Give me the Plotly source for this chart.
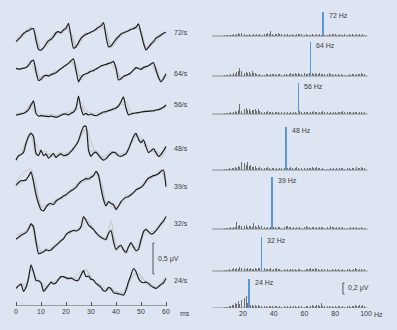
import plotly.graph_objects as go

# ---------------- data ----------------
rates = ["72/s", "64/s", "56/s", "48/s", "39/s", "32/s", "24/s"]
peak_labels = ["72 Hz", "64 Hz", "56 Hz", "48 Hz", "39 Hz", "32 Hz", "24 Hz"]
peak_hz = [72, 64, 56, 48, 39, 32, 24]

ms_black = list(range(0, 61))
ms_gray = list(range(0, 61, 2))

black_72 = [-0.09, -0.05, -0.01, 0.04, 0.07, 0.085, 0.11, 0.12, -0.065, -0.215, -0.226, -0.19, -0.13, -0.076, -0.053, -0.011,
            0.053, 0.069, 0.053, 0.097, 0.124, 0.205, -0.011, -0.198, -0.173, -0.108, -0.037, 0.0, 0.027, 0.044, 0.065,
            0.081, 0.108, 0.14, 0.161, 0.215, -0.011, -0.173, -0.161, -0.108, -0.053, -0.011, 0.032, 0.053, 0.069, 0.085,
            0.108, 0.118, 0.14, 0.194, 0.044, -0.118, -0.226, -0.183, -0.129, -0.092, -0.037, -0.011, 0.016, 0.044, 0.06]
gray_72a = [-0.05, 0.02, 0.09, 0.14, 0.02, -0.20, -0.17, -0.08, 0.02, 0.08, 0.15, 0.06, -0.19, -0.09, 0.01, 0.05,
            0.09, 0.13, 0.10, -0.19, -0.10, 0.00, 0.06, 0.10, 0.12, 0.09, -0.18, -0.16, -0.08, 0.00, 0.05]
gray_72b = [-0.10, -0.03, 0.05, 0.15, -0.03, -0.25, -0.10, -0.02, 0.07, 0.03, 0.10, 0.03, -0.15, -0.01, 0.05, 0.04,
            0.12, 0.20, 0.05, -0.13, -0.03, 0.05, 0.05, 0.13, 0.16, 0.07, -0.20, -0.10, -0.02, 0.04, 0.07]

black_64 = [0.027, 0.016, 0.02, 0.03, 0.04, 0.075, 0.134, 0.16, -0.027, -0.17, -0.15, -0.10, -0.086, -0.097, -0.075, -0.06,
            -0.043, -0.01, 0.02, 0.054, 0.08, 0.107, 0.15, 0.18, 0.0, -0.19, -0.12, -0.075, -0.06, -0.043, -0.02,
            -0.01, 0.016, 0.038, 0.065, 0.08, 0.09, 0.107, 0.118, 0.14, 0.027, -0.16, -0.14, -0.10, -0.086, -0.07,
            -0.043, 0.0, 0.038, 0.027, 0.01, 0.043, 0.054, 0.07, 0.097, 0.118, 0.0, -0.12, -0.19, -0.14, -0.065]
gray_64a = [0.04, 0.01, 0.06, 0.16, 0.05, -0.17, -0.10, -0.06, -0.02, 0.03, 0.09, 0.12, 0.08, -0.16, -0.07, -0.03,
            0.03, 0.06, 0.10, 0.13, 0.08, -0.16, -0.09, -0.04, 0.02, 0.03, 0.06, 0.11, 0.05, -0.17, -0.10]
gray_64b = [0.01, 0.03, 0.03, 0.10, -0.06, -0.12, -0.07, -0.09, -0.05, 0.01, 0.06, 0.16, -0.04, -0.10, -0.05, 0.00,
            0.01, 0.07, 0.08, 0.10, 0.00, -0.12, -0.08, -0.05, 0.05, 0.00, 0.04, 0.08, -0.04, -0.16, -0.04]

black_56 = [-0.113, -0.108, -0.097, -0.086, -0.065, -0.032, 0.048, 0.115, -0.086, -0.13, -0.124, -0.13, -0.134, -0.14, -0.13,
            -0.14, -0.15, -0.14, -0.118, -0.10, -0.097, -0.113, -0.086, -0.065, -0.005, 0.19, -0.005, -0.113, -0.086,
            -0.113, -0.097, -0.118, -0.124, -0.108, -0.086, -0.065, -0.06, -0.043, -0.032, -0.016, 0.0, 0.032, 0.10,
            0.18, -0.005, -0.113, -0.097, -0.086, -0.08, -0.075, -0.065, -0.06, -0.054, -0.054, -0.048, -0.048,
            -0.032, -0.027, -0.01, 0.01, 0.048]
gray_56a = [-0.10, -0.08, -0.04, 0.08, -0.02, -0.10, -0.12, -0.10, -0.12, -0.10, -0.08, -0.05, 0.02, 0.10, -0.04, -0.08,
            -0.10, -0.07, -0.04, -0.02, 0.02, 0.08, 0.10, -0.06, -0.09, -0.06, -0.04, -0.05, -0.03, 0.00, 0.03]
gray_56b = [-0.12, -0.10, -0.08, 0.02, -0.10, -0.14, -0.11, -0.14, -0.13, -0.12, -0.11, -0.09, -0.04, 0.04, -0.10, -0.11,
            -0.12, -0.10, -0.08, -0.04, -0.02, 0.06, 0.02, -0.10, -0.07, -0.07, -0.06, -0.04, -0.04, -0.02, 0.06]

black_48 = [-0.26, -0.19, -0.17, -0.14, 0.01, 0.12, 0.17, 0.12, -0.15, -0.19, -0.10, -0.19, -0.16, -0.23, -0.19, -0.15,
            -0.22, -0.18, -0.16, -0.19, -0.18, -0.16, -0.12, -0.07, -0.016, 0.054, 0.18, 0.28, 0.29, -0.10, -0.20,
            -0.15, -0.13, -0.18, -0.23, -0.26, -0.24, -0.19, -0.15, -0.13, -0.15, -0.19, -0.20, -0.18, -0.16, -0.086,
            0.02, 0.12, 0.17, 0.075, 0.02, 0.065, -0.043, -0.14, -0.11, -0.075, -0.14, -0.20, -0.17, -0.11, -0.043]
gray_48a = [-0.22, -0.14, 0.05, 0.20, 0.00, -0.14, -0.12, -0.20, -0.18, -0.13, -0.20, -0.14, -0.04, 0.12, 0.24, 0.05,
            -0.16, -0.20, -0.18, -0.12, -0.18, -0.16, -0.12, 0.04, 0.14, 0.10, 0.00, -0.08, -0.18, -0.22, -0.10]
gray_48b = [-0.24, -0.18, -0.02, 0.14, -0.18, -0.12, -0.18, -0.16, -0.20, -0.18, -0.15, -0.10, 0.00, 0.15, 0.26, -0.12,
            -0.10, -0.20, -0.22, -0.17, -0.13, -0.18, -0.14, -0.01, 0.12, 0.06, -0.06, -0.12, -0.12, -0.15, -0.02]

black_39 = [0.048, 0.09, 0.12, 0.12, 0.13, 0.19, 0.26, 0.10, -0.11, -0.25, -0.35, -0.37, -0.31, -0.26, -0.25, -0.27,
            -0.21, -0.18, -0.16, -0.13, -0.11, -0.075, -0.043, -0.02, 0.01, 0.065, 0.11, 0.13, 0.15, 0.145, 0.17, 0.20,
            0.27, 0.21, -0.005, -0.19, -0.29, -0.22, -0.25, -0.27, -0.35, -0.29, -0.22, -0.18, -0.15, -0.14, -0.11,
            -0.075, -0.03, -0.01, 0.01, 0.048, 0.11, 0.16, 0.18, 0.20, 0.21, 0.23, 0.27, 0.29, 0.02]
gray_39a = [0.10, 0.20, 0.28, 0.30, 0.05, -0.28, -0.33, -0.22, -0.24, -0.14, -0.08, -0.02, 0.05, 0.10, 0.17, 0.19,
            0.24, 0.10, -0.22, -0.30, -0.30, -0.26, -0.18, -0.08, -0.05, 0.04, 0.08, 0.15, 0.23, 0.25, 0.10]
gray_39b = [0.02, 0.08, 0.15, 0.22, -0.05, -0.30, -0.27, -0.28, -0.18, -0.18, -0.13, -0.06, 0.00, 0.08, 0.12, 0.14,
            0.22, 0.05, -0.25, -0.22, -0.32, -0.24, -0.12, -0.13, -0.01, 0.03, 0.13, 0.16, 0.19, 0.30, 0.08]

black_32 = [-0.12, -0.086, -0.054, -0.032, -0.01, 0.043, 0.13, 0.086, -0.156, -0.35, -0.34, -0.32, -0.29, -0.30, -0.29,
            -0.25, -0.215, -0.18, -0.14, -0.11, -0.043, -0.01, 0.01, 0.027, 0.016, 0.032, 0.086, 0.25, 0.19, 0.11, 0.075,
            0.043, -0.01, -0.054, -0.086, -0.11, -0.12, -0.02, 0.02, -0.156, -0.28, -0.24, -0.21, -0.29, -0.33, -0.24,
            -0.17, -0.24, -0.30, -0.28, -0.13, 0.005, 0.043, 0.005, -0.032, -0.02, 0.02, 0.075, 0.13, 0.18, 0.25]
gray_32a = [-0.05, -0.02, 0.02, 0.10, -0.10, -0.30, -0.31, -0.26, -0.20, -0.12, -0.06, 0.02, 0.03, 0.10, 0.22, 0.12,
            0.00, -0.06, -0.10, 0.18, -0.20, -0.25, -0.30, -0.22, -0.34, -0.15, 0.00, 0.00, 0.04, 0.10, 0.22]
gray_32b = [-0.10, -0.08, 0.00, 0.15, -0.20, -0.33, -0.27, -0.30, -0.24, -0.16, -0.05, -0.02, 0.04, 0.06, 0.16, 0.10,
            -0.04, -0.10, -0.14, 0.05, -0.30, -0.24, -0.36, -0.20, -0.26, -0.10, 0.06, -0.05, 0.03, 0.15, 0.24]

black_24 = [-0.15, -0.11, -0.08, -0.20, -0.134, 0.01, 0.23, 0.12, -0.027, -0.027, -0.06, -0.20, -0.15, -0.10, -0.05,
            -0.08, -0.06, -0.005, 0.038, 0.038, 0.02, 0.005, 0.016, -0.005, -0.027, -0.016, 0.065, 0.134, 0.038, 0.048,
            -0.005, -0.016, -0.07, -0.10, -0.134, -0.19, -0.19, -0.134, -0.156, -0.22, -0.23, -0.24, -0.25, -0.26,
            -0.18, -0.043, 0.065, 0.17, 0.12, 0.01, -0.043, -0.06, -0.05, -0.07, -0.11, -0.134, -0.15, -0.124, -0.09,
            -0.06, 0.01]
gray_24a = [-0.12, -0.10, -0.08, 0.18, 0.02, -0.04, -0.12, -0.08, -0.02, 0.02, 0.04, 0.00, 0.05, 0.12, 0.14, 0.02,
            -0.05, -0.10, -0.16, -0.18, -0.20, -0.22, -0.14, 0.02, 0.10, 0.02, -0.03, -0.08, -0.12, -0.06, 0.04]
gray_24b = [-0.18, -0.06, -0.16, 0.15, 0.00, -0.08, -0.18, -0.04, -0.08, 0.05, 0.00, 0.03, 0.00, 0.04, 0.16, 0.04,
            -0.08, -0.14, -0.20, -0.13, -0.21, -0.24, -0.20, 0.00, 0.08, 0.06, -0.08, -0.12, -0.16, -0.10, 0.02]

freq_hz = list(range(1, 100))
spec_72 = [0, 0, 0, 0, 0, 0, 0, 0.01, 0.01, 0.02,
           0.01, 0.02, 0.01, 0.03, 0.02, 0.04, 0.05, 0.03, 0.06, 0.05,
           0.03, 0.02, 0.02, 0.03, 0.02, 0.02, 0.03, 0.02, 0.04, 0.02,
           0.03, 0.02, 0.03, 0.04, 0.03, 0.05, 0.04, 0.09, 0.03, 0.02,
           0.03, 0.04, 0.05, 0.03, 0.04, 0.02, 0.03, 0.02, 0.03, 0.02,
           0.02, 0.03, 0.02, 0.02, 0.03, 0.04, 0.03, 0.03, 0.04, 0.02,
           0.03, 0.02, 0.02, 0.02, 0.03, 0.02, 0.02, 0.03, 0.02, 0.03,
           0.02, 0.44, 0.02, 0.03, 0.02, 0.03, 0.02, 0.04, 0.03, 0.03,
           0.02, 0.02, 0.03, 0.02, 0.02, 0.03, 0.02, 0.02, 0.03, 0.02,
           0.03, 0.02, 0.02, 0.03, 0.02, 0.03, 0.02, 0.03, 0.02]
spec_64 = [0, 0, 0, 0, 0, 0, 0.01, 0.02, 0.01, 0.02,
           0.02, 0.03, 0.02, 0.05, 0.03, 0.08, 0.10, 0.14, 0.09, 0.12,
           0.06, 0.08, 0.05, 0.07, 0.04, 0.09, 0.05, 0.06, 0.03, 0.02,
           0.03, 0.02, 0.03, 0.02, 0.03, 0.03, 0.02, 0.03, 0.04, 0.03,
           0.03, 0.02, 0.04, 0.03, 0.02, 0.03, 0.03, 0.04, 0.02, 0.03,
           0.05, 0.03, 0.04, 0.06, 0.03, 0.05, 0.04, 0.04, 0.03, 0.05,
           0.03, 0.04, 0.05, 0.62, 0.06, 0.04, 0.05, 0.03, 0.04, 0.05,
           0.04, 0.03, 0.04, 0.03, 0.04, 0.05, 0.03, 0.03, 0.02, 0.03,
           0.02, 0.03, 0.02, 0.03, 0.02, 0.02, 0.03, 0.02, 0.03, 0.02,
           0.03, 0.04, 0.02, 0.03, 0.04, 0.03, 0.05, 0.04, 0.03]
spec_56 = [0, 0, 0, 0, 0, 0, 0, 0.01, 0.02, 0.01,
           0.02, 0.03, 0.02, 0.03, 0.05, 0.04, 0.08, 0.18, 0.06, 0.10,
           0.09, 0.11, 0.07, 0.09, 0.06, 0.08, 0.07, 0.10, 0.05, 0.09,
           0.06, 0.04, 0.05, 0.03, 0.04, 0.06, 0.03, 0.04, 0.03, 0.02,
           0.03, 0.04, 0.03, 0.02, 0.03, 0.02, 0.03, 0.02, 0.03, 0.02,
           0.03, 0.02, 0.04, 0.03, 0.02, 0.56, 0.05, 0.03, 0.04, 0.03,
           0.04, 0.03, 0.02, 0.03, 0.04, 0.05, 0.03, 0.04, 0.02, 0.03,
           0.04, 0.05, 0.03, 0.04, 0.03, 0.02, 0.03, 0.02, 0.04, 0.03,
           0.02, 0.03, 0.04, 0.03, 0.05, 0.03, 0.02, 0.03, 0.04, 0.03,
           0.02, 0.03, 0.04, 0.03, 0.02, 0.03, 0.04, 0.02, 0.03]
spec_48 = [0, 0, 0, 0, 0, 0, 0, 0.01, 0.02, 0.02,
           0.03, 0.02, 0.04, 0.03, 0.05, 0.04, 0.07, 0.05, 0.15, 0.08,
           0.12, 0.09, 0.14, 0.07, 0.10, 0.06, 0.05, 0.08, 0.04, 0.03,
           0.05, 0.03, 0.02, 0.04, 0.03, 0.05, 0.03, 0.02, 0.04, 0.03,
           0.02, 0.03, 0.02, 0.04, 0.03, 0.02, 0.03, 0.78, 0.03, 0.04,
           0.05, 0.03, 0.02, 0.04, 0.05, 0.03, 0.02, 0.03, 0.02, 0.03,
           0.02, 0.03, 0.04, 0.03, 0.05, 0.04, 0.03, 0.05, 0.04, 0.03,
           0.02, 0.03, 0.02, 0.03, 0.02, 0.02, 0.03, 0.02, 0.03, 0.02,
           0.03, 0.02, 0.03, 0.04, 0.03, 0.02, 0.03, 0.04, 0.03, 0.02,
           0.03, 0.04, 0.02, 0.05, 0.03, 0.04, 0.06, 0.04, 0.03]
spec_39 = [0, 0, 0, 0, 0, 0, 0, 0.01, 0.01, 0.02,
           0.02, 0.03, 0.02, 0.03, 0.04, 0.12, 0.05, 0.08, 0.06, 0.09,
           0.05, 0.07, 0.04, 0.06, 0.05, 0.04, 0.11, 0.06, 0.04, 0.07,
           0.03, 0.05, 0.03, 0.04, 0.02, 0.03, 0.02, 0.03, 0.95, 0.04,
           0.03, 0.02, 0.04, 0.03, 0.02, 0.03, 0.04, 0.05, 0.06, 0.04,
           0.03, 0.02, 0.03, 0.02, 0.04, 0.02, 0.03, 0.02, 0.03, 0.04,
           0.05, 0.04, 0.03, 0.02, 0.03, 0.04, 0.02, 0.03, 0.02, 0.03,
           0.04, 0.03, 0.02, 0.03, 0.04, 0.02, 0.05, 0.03, 0.04, 0.02,
           0.03, 0.02, 0.03, 0.02, 0.03, 0.02, 0.03, 0.02, 0.02, 0.03,
           0.02, 0.03, 0.02, 0.03, 0.02, 0.02, 0.03, 0.02, 0.02]
spec_32 = [0, 0, 0, 0, 0, 0, 0, 0.01, 0.02, 0.02,
           0.03, 0.02, 0.04, 0.05, 0.03, 0.06, 0.04, 0.07, 0.05, 0.04,
           0.06, 0.04, 0.05, 0.03, 0.06, 0.04, 0.03, 0.05, 0.04, 0.06,
           0.05, 0.62, 0.09, 0.05, 0.03, 0.04, 0.03, 0.05, 0.02, 0.04,
           0.03, 0.05, 0.04, 0.03, 0.02, 0.03, 0.04, 0.02, 0.03, 0.02,
           0.03, 0.04, 0.02, 0.03, 0.02, 0.04, 0.03, 0.02, 0.03, 0.02,
           0.03, 0.04, 0.03, 0.05, 0.03, 0.04, 0.06, 0.04, 0.03, 0.02,
           0.03, 0.02, 0.03, 0.02, 0.03, 0.02, 0.02, 0.03, 0.02, 0.03,
           0.02, 0.03, 0.02, 0.02, 0.03, 0.02, 0.03, 0.04, 0.03, 0.02,
           0.02, 0.03, 0.05, 0.03, 0.02, 0.04, 0.03, 0.02, 0.03]
spec_24 = [0, 0, 0, 0, 0, 0, 0, 0.01, 0.02, 0.02,
           0.03, 0.04, 0.06, 0.05, 0.09, 0.07, 0.12, 0.08, 0.15, 0.10,
           0.18, 0.21, 0.09, 0.53, 0.06, 0.05, 0.04, 0.06, 0.03, 0.05,
           0.04, 0.03, 0.05, 0.03, 0.04, 0.02, 0.03, 0.04, 0.03, 0.02,
           0.03, 0.04, 0.02, 0.03, 0.02, 0.05, 0.03, 0.02, 0.03, 0.02,
           0.03, 0.02, 0.04, 0.03, 0.02, 0.03, 0.02, 0.04, 0.03, 0.02,
           0.03, 0.04, 0.02, 0.03, 0.05, 0.04, 0.03, 0.05, 0.06, 0.04,
           0.09, 0.04, 0.03, 0.02, 0.03, 0.04, 0.02, 0.03, 0.02, 0.03,
           0.02, 0.03, 0.04, 0.02, 0.03, 0.02, 0.03, 0.04, 0.03, 0.02,
           0.03, 0.04, 0.05, 0.03, 0.04, 0.06, 0.04, 0.05, 0.03]

ms_ticks = [0, 10, 20, 30, 40, 50, 60]
hz_ticks = [20, 40, 60, 80, 100]
wave_scale_uV = 0.5
spec_scale_uV = 0.2

# ---------------- layout constants ----------------
W, H = 397, 330
BG = "#dee5f2"
FONT = "Liberation Sans"
TXT = "#3a3a3a"
wave_offsets = [4.355, 3.806, 3.194, 2.613, 1.903, 1.194, 0.435]   # row baselines (µV units, left axis)
label_dy = [0.05, -0.05, 0.05, -0.08, 0.02, 0.13, -0.03]
spec_offsets = [4.945, 4.218, 3.527, 2.509, 1.436, 0.673, 0.0]     # row baselines (µV units, right axis)

blacks = [black_72, black_64, black_56, black_48, black_39, black_32, black_24]
grays = [(gray_72a, gray_72b), (gray_64a, gray_64b), (gray_56a, gray_56b), (gray_48a, gray_48b),
         (gray_39a, gray_39b), (gray_32a, gray_32b), (gray_24a, gray_24b)]
spectra = [spec_72, spec_64, spec_56, spec_48, spec_39, spec_32, spec_24]

fig = go.Figure()

for i in range(7):
    off = wave_offsets[i]
    for g in grays[i]:
        fig.add_trace(go.Scatter(x=ms_gray, y=[v + off for v in g], mode="lines",
                                 line=dict(color="#bdbdbd", width=0.8, shape="spline", smoothing=0.8),
                                 xaxis="x", yaxis="y", hoverinfo="skip", showlegend=False))
    fig.add_trace(go.Scatter(x=ms_black, y=[v + off for v in blacks[i]], mode="lines",
                             line=dict(color="#1e1e1e", width=1.2, shape="spline", smoothing=0.5),
                             xaxis="x", yaxis="y", hoverinfo="skip", showlegend=False))

annotations = []
shapes = []
for i in range(7):
    off = spec_offsets[i]
    spec = spectra[i]
    colors = ["#5a96d4" if f == peak_hz[i] else "#6e6e6e" for f in freq_hz]
    widths = [1.0 if f == peak_hz[i] else 0.6 for f in freq_hz]
    fig.add_trace(go.Bar(x=freq_hz, y=spec, base=off, width=widths,
                         marker=dict(color=colors, line=dict(width=0)),
                         xaxis="x2", yaxis="y2", hoverinfo="skip", showlegend=False))
    shapes.append(dict(type="line", xref="x2", yref="y2", x0=0, x1=101, y0=off, y1=off,
                       line=dict(color="#8a8a8a", width=1)))
    pk = spec[freq_hz.index(peak_hz[i])]
    annotations.append(dict(x=peak_hz[i] + 2.4, y=off + pk - 0.065, xref="x2", yref="y2",
                            text=peak_labels[i], showarrow=False, xanchor="left", yanchor="middle",
                            font=dict(family=FONT, size=7, color=TXT)))
    annotations.append(dict(x=62.3, y=wave_offsets[i] + label_dy[i], xref="x", yref="y",
                            text=rates[i], showarrow=False, xanchor="left", yanchor="middle",
                            font=dict(family=FONT, size=7, color=TXT)))

# left time axis line
shapes.append(dict(type="line", xref="x", yref="y", x0=0, x1=60, y0=0, y1=0,
                   line=dict(color="#555555", width=1)))
# scale bars
shapes.append(dict(type="path", xref="x", yref="y",
                   path=f"M 55.4,0.516 L 54.8,0.516 L 54.8,{0.516 + wave_scale_uV} L 55.4,{0.516 + wave_scale_uV}",
                   line=dict(color="#555555", width=1)))
shapes.append(dict(type="path", xref="x2", yref="y2",
                   path=f"M 86,0.255 L 85,0.255 L 85,{0.255 + spec_scale_uV} L 86,{0.255 + spec_scale_uV}",
                   line=dict(color="#555555", width=1)))
annotations.append(dict(x=56.0, y=0.766, xref="x", yref="y", text="0,5 µV", showarrow=False,
                        xanchor="left", yanchor="middle", font=dict(family=FONT, size=7, color=TXT)))
annotations.append(dict(x=87.0, y=0.355, xref="x2", yref="y2", text="0,2 µV", showarrow=False,
                        xanchor="left", yanchor="middle", font=dict(family=FONT, size=7, color=TXT)))
annotations.append(dict(x=64.6, y=(H - 313) / H, xref="x", yref="paper", text="ms", showarrow=False,
                        xanchor="left", yanchor="middle", font=dict(family=FONT, size=7, color=TXT)))
annotations.append(dict(x=104.0, y=(H - 314) / H, xref="x2", yref="paper", text="Hz", showarrow=False,
                        xanchor="left", yanchor="middle", font=dict(family=FONT, size=7, color=TXT)))

fig.update_layout(
    width=W, height=H, autosize=False,
    margin=dict(l=0, r=0, t=0, b=0),
    paper_bgcolor=BG, plot_bgcolor=BG,
    barmode="overlay", bargap=0,
    showlegend=False,
    xaxis=dict(domain=[0, 190 / W], range=[-6.4, 69.6], anchor="y",
               showgrid=False, zeroline=False, showline=False,
               tickmode="array", tickvals=ms_ticks, ticks="inside", ticklen=4, tickwidth=1,
               tickcolor="#555555", tickfont=dict(family=FONT, size=7, color=TXT)),
    yaxis=dict(domain=[24 / H, 1], range=[0, 306 / 62], anchor="x", visible=False),
    xaxis2=dict(domain=[205 / W, 1], range=[-4.715, 120.16], anchor="y2",
                showgrid=False, zeroline=False, showline=False,
                tickmode="array", tickvals=hz_ticks, ticks="",
                tickfont=dict(family=FONT, size=7, color=TXT)),
    yaxis2=dict(domain=[22 / H, 1], range=[0, 308 / 55], anchor="x2", visible=False),
    shapes=shapes,
    annotations=annotations,
)

fig.write_html("out.html",
               config={"displayModeBar": False, "staticPlot": True},
               post_script="document.body.style.margin='0';document.body.style.padding='0';"
                           "document.body.style.background='" + BG + "';")
